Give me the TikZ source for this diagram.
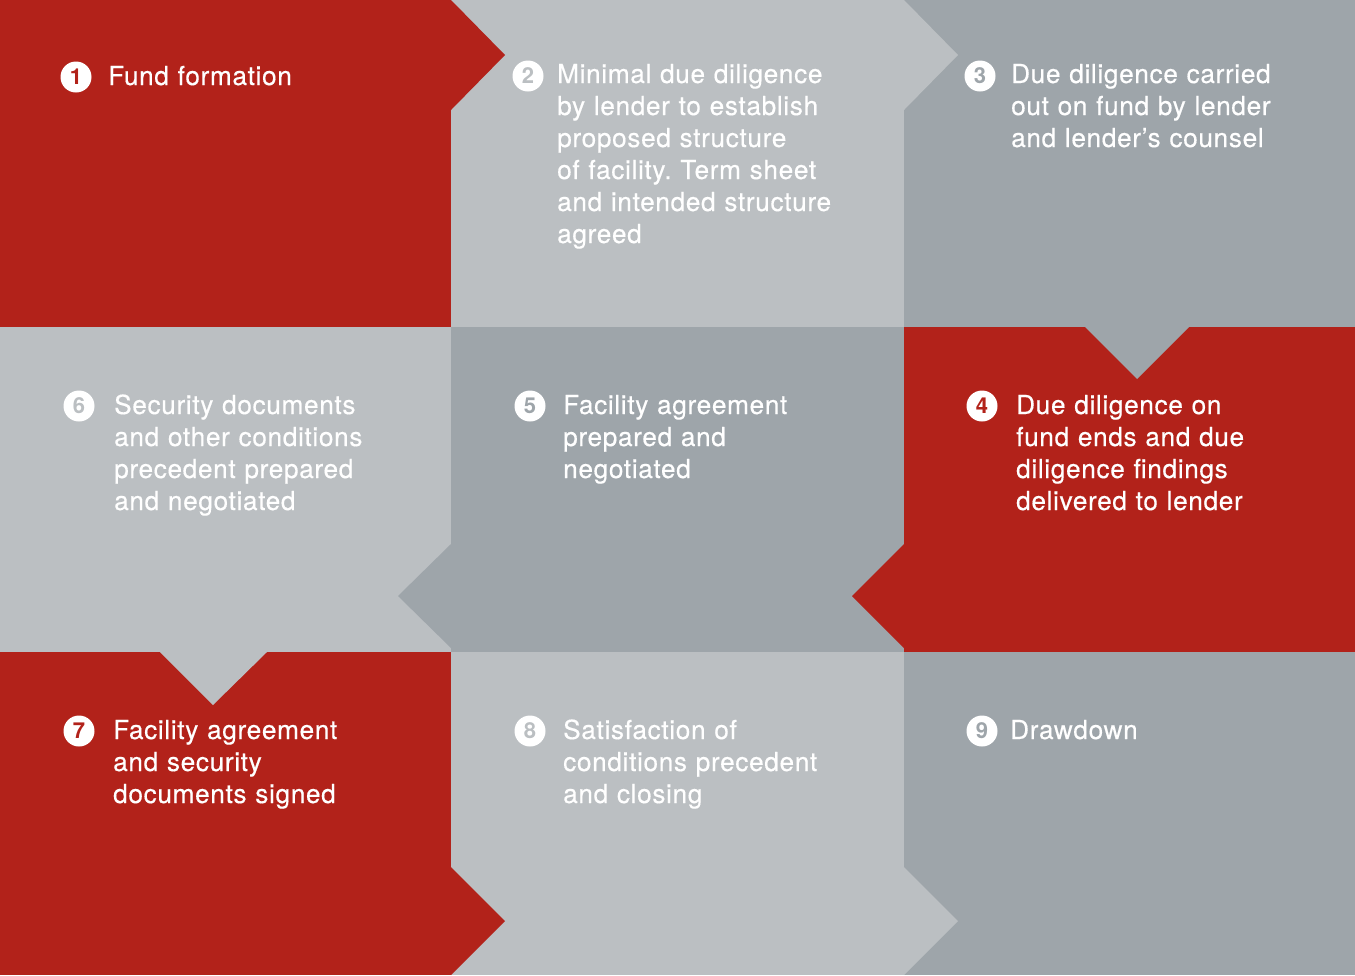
\documentclass[tikz,border=0pt]{standalone}
\usepackage{fontspec}
\setmainfont{TeX Gyre Heros}[LetterSpace=2.5,FakeBold=0.4]
\newfontfamily\numfont{TeX Gyre Heros}[LetterSpace=0]
\definecolor{cred}{RGB}{178,34,26}
\definecolor{clight}{RGB}{187,191,194}
\definecolor{cdark}{RGB}{158,165,170}
\frenchspacing
\begin{document}
\begin{tikzpicture}[x=1pt,y=-1pt,
  celltext/.style={anchor=base west, inner sep=0pt, text width=340pt, align=left, text=white,
    font=\fontsize{26.2}{32}\selectfont},
  num/.style={circle, fill=white, minimum size=31pt, inner sep=0pt,
    font=\numfont\bfseries\fontsize{22}{22}\selectfont}]
\useasboundingbox (0,0) rectangle (1355,975);
% cells
\fill[cred]   (0,0) rectangle (451,327);
\fill[clight] (451,0) rectangle (904,327);
\fill[cdark]  (904,0) rectangle (1355,327);
\fill[clight] (0,327) rectangle (451,652);
\fill[cdark]  (451,327) rectangle (904,652);
\fill[cred]   (904,327) rectangle (1355,652);
\fill[cred]   (0,652) rectangle (451,975);
\fill[clight] (451,652) rectangle (904,975);
\fill[cdark]  (904,652) rectangle (1355,975);
% arrow tips
\fill[cred]   (451,0) -- (505,55) -- (451,110) -- cycle;
\fill[clight] (904,0) -- (958,55) -- (904,110) -- cycle;
\fill[cdark]  (1085,327) -- (1137,379) -- (1189,327) -- cycle;
\fill[cred]   (904,544) -- (852,596) -- (904,648) -- cycle;
\fill[cdark]  (451,544) -- (398,596) -- (451,648) -- cycle;
\fill[clight] (160,652) -- (213,705) -- (267,652) -- cycle;
\fill[cred]   (451,867) -- (505,921) -- (451,975) -- cycle;
\fill[clight] (904,867) -- (958,921) -- (904,975) -- cycle;
% numbers
\node[num, text=cred]   (n1) at (76,77)   {1};
\node[num, text=clight] (n2) at (528,76)  {2};
\node[num, text=cdark]  (n3) at (980,76)  {3};
\node[num, text=cred]   (n4) at (982,406) {4};
\node[num, text=cdark]  (n5) at (530,406) {5};
\node[num, text=clight] (n6) at (79,406)  {6};
\node[num, text=cred]   (n7) at (79,731)  {7};
\node[num, text=clight] (n8) at (530,731) {8};
\node[num, text=cdark]  (n9) at (982,731) {9};
% texts
\node[celltext] (t1) at (108,85) {Fund formation};
\node[celltext] (t2) at (557,83) {Minimal due diligence\\by lender to establish\\proposed structure\\of facility. Term sheet\\and intended structure\\agreed};
\node[celltext] (t3) at (1011,83) {Due diligence carried\\out on fund by lender\\and lender’s counsel};
\node[celltext] (t4) at (1016,414) {Due diligence on\\fund ends and due\\diligence findings\\delivered to lender};
\node[celltext] (t5) at (563,414) {Facility agreement\\prepared and\\negotiated};
\node[celltext] (t6) at (114,414) {Security documents\\and other conditions\\precedent prepared\\and negotiated};
\node[celltext] (t7) at (113,739) {Facility agreement\\and security\\documents signed};
\node[celltext] (t8) at (563,739) {Satisfaction of\\conditions precedent\\and closing};
\node[celltext] (t9) at (1010,739) {Drawdown};
\end{tikzpicture}
\end{document}
